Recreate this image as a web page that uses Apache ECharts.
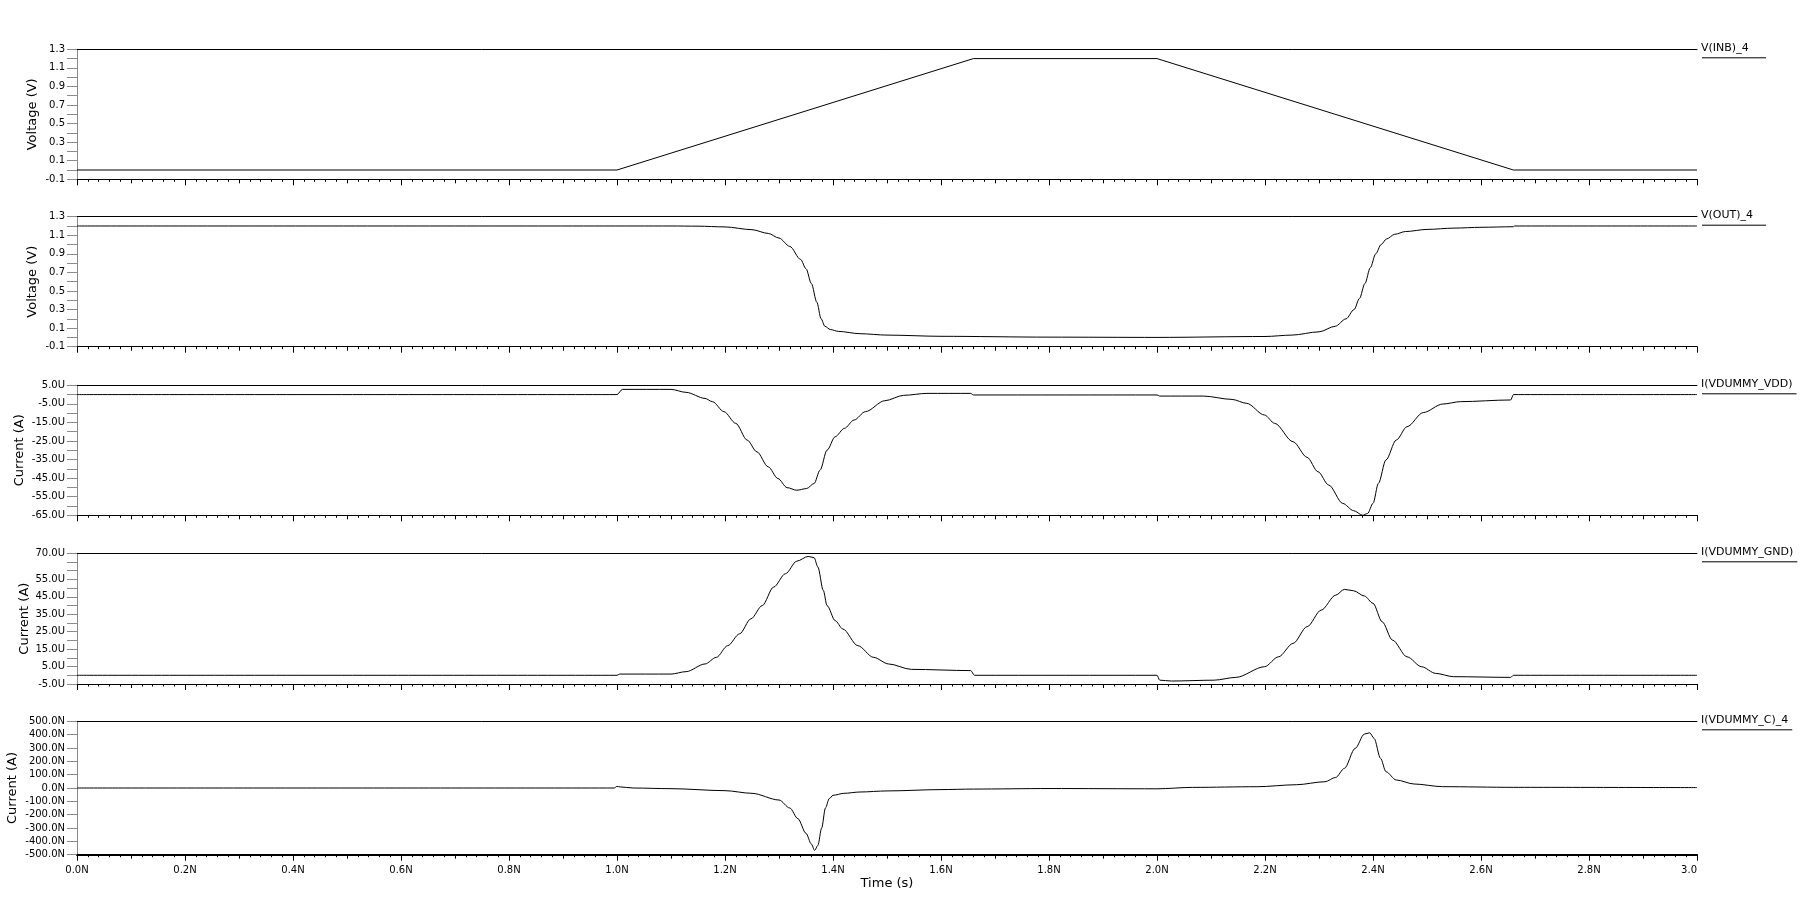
<!DOCTYPE html>
<html><head><meta charset="utf-8">
<script src="https://cdn.jsdelivr.net/npm/echarts@6/dist/echarts.min.js"></script>
<style>html,body{margin:0;padding:0;background:#fff}#c{width:1806px;height:905px}</style>
</head><body><div id="c"></div>
<script>
// ---- data (time in ns) ----
const seriesNames = ['V(INB)_4', 'V(OUT)_4', 'I(VDUMMY_VDD)', 'I(VDUMMY_GND)', 'I(VDUMMY_C)_4'];
const yNames = ['Voltage (V)', 'Voltage (V)', 'Current (A)', 'Current (A)', 'Current (A)'];

const inbT = [0, 1.0, 1.66, 2.0, 2.66, 3.0];
const inbV = [0, 0, 1.2, 1.2, 0, 0];

const outT = [0, 1.1, 1.15, 1.2, 1.25, 1.28, 1.3, 1.32, 1.34, 1.35, 1.36, 1.37, 1.378, 1.385, 1.395, 1.41, 1.45, 1.5, 1.6, 1.8, 2.0, 2.2, 2.25, 2.3, 2.33, 2.35, 2.365, 2.375, 2.385, 2.395, 2.405, 2.415, 2.425, 2.44, 2.46, 2.5, 2.55, 2.6, 2.66, 2.662, 3.0];
const outV = [1.2, 1.2, 1.198, 1.19, 1.16, 1.12, 1.07, 0.98, 0.84, 0.74, 0.58, 0.38, 0.2, 0.12, 0.085, 0.065, 0.04, 0.025, 0.012, 0.003, 0.0, 0.01, 0.025, 0.06, 0.12, 0.2, 0.3, 0.42, 0.58, 0.75, 0.9, 1.0, 1.06, 1.11, 1.14, 1.163, 1.177, 1.186, 1.192, 1.2, 1.2];

const vddT = [0, 1.0, 1.01, 1.1, 1.128, 1.163, 1.177, 1.198, 1.22, 1.241, 1.259, 1.28, 1.298, 1.315, 1.333, 1.351, 1.365, 1.376, 1.389, 1.404, 1.421, 1.439, 1.46, 1.496, 1.531, 1.574, 1.655, 1.66, 2.0, 2.005, 2.086, 2.139, 2.166, 2.199, 2.218, 2.252, 2.278, 2.298, 2.318, 2.344, 2.364, 2.381, 2.39, 2.4, 2.41, 2.424, 2.443, 2.463, 2.493, 2.529, 2.562, 2.655, 2.66, 3.0];
const vddV = [0, 0, 2.8, 2.8, 1.2, -2.05, -3.85, -9.2, -15.5, -24.5, -30.8, -38.9, -45.2, -50.1, -51.5, -50.6, -47.9, -40.7, -29.9, -22.7, -18.2, -13.7, -9.2, -3.3, -0.4, 0.65, 0.65, -0.2, -0.2, -0.8, -0.8, -2.6, -4.7, -11.0, -15.5, -25.4, -33.8, -41.5, -48.7, -58.6, -62.5, -65.0, -64.0, -58.6, -47.8, -35.2, -24.5, -17.3, -9.7, -5.1, -3.8, -2.9, 0, 0];

const gndT = [0, 1.0, 1.005, 1.1, 1.128, 1.163, 1.184, 1.205, 1.227, 1.248, 1.269, 1.29, 1.312, 1.333, 1.354, 1.365, 1.372, 1.382, 1.389, 1.404, 1.418, 1.446, 1.475, 1.503, 1.545, 1.655, 1.662, 2.0, 2.005, 2.027, 2.106, 2.146, 2.199, 2.225, 2.252, 2.278, 2.304, 2.331, 2.347, 2.364, 2.384, 2.4, 2.417, 2.436, 2.463, 2.49, 2.516, 2.549, 2.655, 2.66, 3.0];
const gndV = [0, 0, 0.7, 0.7, 2.1, 6.5, 10.3, 17.0, 23.8, 32.4, 40.0, 50.6, 58.3, 65.5, 68.2, 67.5, 62.1, 48.7, 40.0, 31.4, 26.6, 17.0, 10.3, 6.5, 3.4, 2.7, 0, 0, -2.8, -3.3, -2.8, -1.2, 4.9, 10.6, 18.3, 27.9, 37.4, 46.0, 49.3, 48.5, 45.5, 41.3, 30.7, 20.2, 10.6, 4.9, 1.1, -0.8, -1.2, 0, 0];

const capT = [0, 0.995, 1.0, 1.006, 1.03, 1.1, 1.2, 1.25, 1.3, 1.32, 1.335, 1.35, 1.36, 1.366, 1.372, 1.379, 1.386, 1.393, 1.4, 1.42, 1.45, 1.5, 1.6, 1.66, 1.8, 2.0, 2.066, 2.185, 2.258, 2.311, 2.331, 2.347, 2.367, 2.384, 2.394, 2.402, 2.414, 2.424, 2.443, 2.476, 2.529, 2.66, 3.0];
const capV = [0, 0, 12, 8, 0, -5, -20, -40, -90, -150, -230, -340, -420, -468, -430, -300, -150, -80, -55, -40, -30, -22, -12, -8, -4, -6, 4.6, 9.6, 24.5, 47, 79.5, 147, 297, 404, 414, 372, 222, 122, 60, 30, 10, 5, 3];

// ---- axis ticks ----
const yMin = [-0.1, -0.1, -65, -5, -500];
const yMax = [1.3, 1.3, 5, 70, 500];
const yStep = [0.1, 0.1, 5, 5, 100];
const yLabeled = [
  [-0.1, 0.1, 0.3, 0.5, 0.7, 0.9, 1.1, 1.3],
  [-0.1, 0.1, 0.3, 0.5, 0.7, 0.9, 1.1, 1.3],
  [5, -5, -15, -25, -35, -45, -55, -65],
  [70, 55, 45, 35, 25, 15, 5, -5],
  [500, 400, 300, 200, 100, 0, -100, -200, -300, -400, -500]
];
const yUnit = ['', '', 'U', 'U', 'N'];
const xMin = 0, xMax = 3.0, xStep = 0.2;

const allT = [inbT, outT, vddT, gndT, capT];
const allV = [inbV, outV, vddV, gndV, capV];

// ---- layout ----
const gridLeft = 77, gridWidth = 1620;
const gridTop = [49.3, 216.7, 385.3, 553.3, 721.3];
const gridH = [130, 130, 130, 130.7, 133.4];
const nameX = [32.5, 32.5, 19.5, 24.5, 12.5];
const smoothing = [false, 0.3, 0.3, 0.3, 0.3];
const FONT = 'DejaVu Sans';

const chart = echarts.init(document.getElementById('c'), null, {renderer: 'canvas'});
const option = {animation: false, backgroundColor: '#fff', grid: [], xAxis: [], yAxis: [], series: [], graphic: []};

const mctx = document.createElement('canvas').getContext('2d');
mctx.font = '11px "' + FONT + '"';

for (let i = 0; i < 5; i++) {
  const last = i === 4;
  option.grid.push({left: gridLeft, top: gridTop[i], width: gridWidth, height: gridH[i], outerBoundsMode: 'none'});
  option.xAxis.push({
    type: 'value', gridIndex: i, position: 'bottom', min: xMin, max: xMax, interval: xStep,
    axisLine: {show: true, onZero: false, lineStyle: {color: '#000', width: last ? 2 : 1}},
    axisTick: {show: true, length: 6, lineStyle: {color: '#000'}},
    minorTick: {show: true, splitNumber: 10, length: 2.5, lineStyle: {color: '#000'}},
    splitLine: {show: false}, minorSplitLine: {show: false},
    axisLabel: {show: last, margin: 11, color: '#000', fontFamily: FONT, fontSize: 10,
      alignMaxLabel: 'right',
      formatter: v => (Math.abs(v - xMax) < 1e-9 ? v.toFixed(1) : v.toFixed(1) + 'N')},
    name: last ? 'Time (s)' : '', nameLocation: 'middle', nameGap: 22,
    nameTextStyle: {color: '#000', fontFamily: FONT, fontSize: 13}
  });
  option.xAxis.push({
    type: 'value', gridIndex: i, position: 'bottom', min: xMin, max: xMax, interval: xStep / 2,
    axisLine: {show: false, onZero: false}, axisTick: {show: true, length: 4, lineStyle: {color: '#000'}},
    axisLabel: {show: false}, splitLine: {show: false}
  });
  option.xAxis.push({
    type: 'value', gridIndex: i, position: 'top', min: xMin, max: xMax,
    axisLine: {show: true, onZero: false, lineStyle: {color: '#000', width: 1}},
    axisTick: {show: false}, axisLabel: {show: false}, splitLine: {show: false}
  });
  const lab = yLabeled[i], unit = yUnit[i];
  option.yAxis.push({
    type: 'value', gridIndex: i, position: 'left', min: yMin[i], max: yMax[i], interval: yStep[i],
    axisLine: {show: true, onZero: false, lineStyle: {color: '#8a8a8a', width: 1}},
    axisTick: {show: true, length: 10, lineStyle: {color: '#8a8a8a'}},
    splitLine: {show: false},
    axisLabel: {margin: 12, color: '#000', fontFamily: FONT, fontSize: 10,
      formatter: v => lab.some(l => Math.abs(l - v) < 1e-6) ? v.toFixed(1) + unit : ''}
  });
  option.series.push({
    type: 'line', name: seriesNames[i], xAxisIndex: 3 * i, yAxisIndex: i,
    data: allT[i].map((t, k) => [t, allV[i][k]]),
    showSymbol: false, smooth: smoothing[i], smoothMonotone: 'x',
    lineStyle: {color: '#000', width: 1}, silent: true
  });
  // y-axis title
  option.graphic.push({
    type: 'text', x: nameX[i], y: gridTop[i] + gridH[i] / 2, rotation: Math.PI / 2,
    style: {text: yNames[i], font: '13px "' + FONT + '"', fill: '#000', align: 'center', verticalAlign: 'middle'}
  });
  // legend label with underline
  const w = Math.max(mctx.measureText(seriesNames[i]).width + 3, 64);
  option.graphic.push({
    type: 'text', left: gridLeft + gridWidth + 4, top: gridTop[i] - 7,
    style: {text: seriesNames[i], font: '11px "' + FONT + '"', fill: '#000'}
  });
  option.graphic.push({
    type: 'line', shape: {x1: gridLeft + gridWidth + 5, y1: gridTop[i] + 8.5, x2: gridLeft + gridWidth + 5 + w, y2: gridTop[i] + 8.5},
    style: {stroke: '#000', lineWidth: 1}
  });
}
chart.setOption(option);
</script></body></html>
